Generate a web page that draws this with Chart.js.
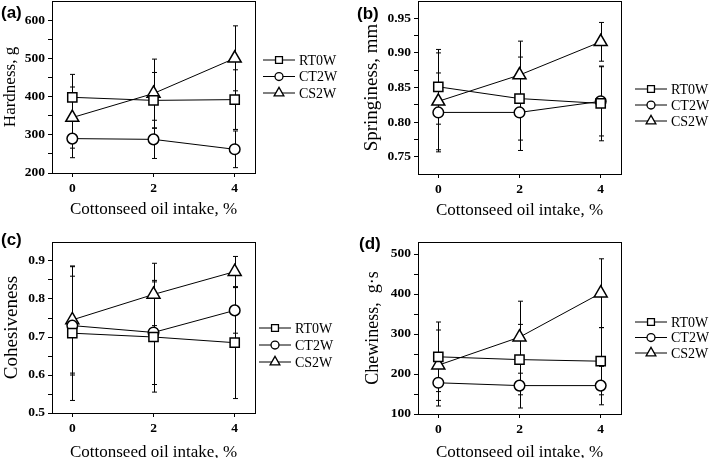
<!DOCTYPE html>
<html>
<head>
<meta charset="utf-8">
<script src="https://cdn.jsdelivr.net/npm/chart.js@4.4.0/dist/chart.umd.min.js"></script>
<style>
  body { margin: 0; background: #fff; overflow: hidden; width: 709px; height: 458px; position: relative; }
  canvas { position: absolute; }
  .lab { position: absolute; font: bold 17px 'Liberation Sans', Arial, sans-serif; color: #000; line-height: 1; }
</style>
</head>
<body>
<canvas id="cA" width="354" height="241" style="left:0;top:-12px"></canvas>
<canvas id="cB" width="355" height="241" style="left:354px;top:-12px"></canvas>
<canvas id="cC" width="354" height="240" style="left:0;top:229px"></canvas>
<canvas id="cD" width="355" height="240" style="left:354px;top:229px"></canvas>
<div class="lab" style="left:1px;top:4px">(a)</div>
<div class="lab" style="left:357px;top:5px">(b)</div>
<div class="lab" style="left:1px;top:231px">(c)</div>
<div class="lab" style="left:359px;top:235px">(d)</div>
<script>
// cottonseed oil intake, %
const doses = [0, 2, 4];
const seriesNames = ['RT0W', 'CT2W', 'CS2W'];
const xTitle = 'Cottonseed oil intake, %';
const xTicks = [0, 2, 4];

// (a) hardness, g  (mean, error)
const hardRT = [398, 390, 392];
const hardRTErr = [60, 73, 78];
const hardCT = [290, 288, 262];
const hardCTErr = [50, 50, 48];
const hardCS = [345, 408, 500];
const hardCSErr = [80, 90, 85];
const yTicksA = [200, 300, 400, 500, 600];

// (b) springiness, mm
const springRT = [0.851, 0.834, 0.827];
const springRTErr = [0.054, 0.060, 0.054];
const springCT = [0.814, 0.814, 0.830];
const springCTErr = [0.057, 0.055, 0.050];
const springCS = [0.830, 0.868, 0.916];
const springCSErr = [0.070, 0.049, 0.028];
const yTicksB = [0.75, 0.80, 0.85, 0.90, 0.95];

// (c) cohesiveness
const cohRT = [0.710, 0.700, 0.685];
const cohRTErr = [0.177, 0.145, 0.147];
const cohCT = [0.730, 0.712, 0.770];
const cohCTErr = [0.130, 0.137, 0.060];
const cohCS = [0.745, 0.812, 0.872];
const cohCSErr = [0.140, 0.082, 0.040];
const yTicksC = [0.5, 0.6, 0.7, 0.8, 0.9];

// (d) chewiness, g·s
const chewRT = [243, 236, 232];
const chewRTErr = [87, 88, 84];
const chewCT = [178, 171, 171];
const chewCTErr = [58, 56, 48];
const chewCS = [222, 292, 402];
const chewCSErr = [88, 90, 86];
const yTicksD = [100, 200, 300, 400, 500];

const markers = [
  { style: 'rect', r: 6.5 },
  { style: 'circle', r: 5.3 },
  { style: 'triangle', r: 7.5 },
];

const SERIF = "'Liberation Serif', 'Times New Roman', serif";

function drawMarker(ctx, style, x, y, r) {
  ctx.beginPath();
  if (style === 'rect') {
    const s = r * Math.SQRT1_2;
    ctx.rect(x - s, y - s, 2 * s, 2 * s);
  } else if (style === 'circle') {
    ctx.arc(x, y, r, 0, Math.PI * 2);
  } else {
    for (let k = 0; k < 3; k++) {
      const a = k * 2 * Math.PI / 3;
      const px = x + Math.sin(a) * r, py = y - Math.cos(a) * r;
      k ? ctx.lineTo(px, py) : ctx.moveTo(px, py);
    }
    ctx.closePath();
  }
  ctx.fill();
  ctx.stroke();
}

// vertical error bars with small caps
const errorBars = {
  id: 'errorBars',
  beforeDatasetsDraw(chart) {
    const { ctx, scales: { x, y } } = chart;
    ctx.save();
    ctx.strokeStyle = '#000';
    ctx.lineWidth = 1;
    chart.data.datasets.forEach(ds => {
      ds.data.forEach((p, i) => {
        const e = ds.err[i];
        const px = Math.round(x.getPixelForValue(p.x)) + 0.5;
        const top = y.getPixelForValue(p.y + e);
        const bot = y.getPixelForValue(p.y - e);
        ctx.beginPath();
        ctx.moveTo(px, top); ctx.lineTo(px, bot);
        ctx.moveTo(px - 2.5, top); ctx.lineTo(px + 2.5, top);
        ctx.moveTo(px - 2.5, bot); ctx.lineTo(px + 2.5, bot);
        ctx.stroke();
      });
    });
    ctx.restore();
  }
};

// closed frame + legend on the right
const frameLegend = {
  id: 'frameLegend',
  afterDraw(chart, args, opts) {
    const { ctx, chartArea: a } = chart;
    ctx.save();
    ctx.strokeStyle = '#000';
    ctx.lineWidth = 1;
    ctx.strokeRect(Math.round(a.left) + 0.5, Math.round(a.top) + 0.5,
                   Math.round(a.right - a.left), Math.round(a.bottom - a.top));
    ctx.font = '14px ' + SERIF;
    ctx.textBaseline = 'middle';
    chart.data.datasets.forEach((ds, i) => {
      const ly = opts.y + i * opts.dy;
      ctx.lineWidth = 1;
      ctx.strokeStyle = '#000';
      ctx.beginPath();
      ctx.moveTo(opts.x, ly); ctx.lineTo(opts.x + 32, ly);
      ctx.stroke();
      ctx.fillStyle = '#fff';
      ctx.lineWidth = 1.3;
      drawMarker(ctx, markers[i].style, opts.x + 16, ly, markers[i].r * 0.75);
      ctx.fillStyle = '#000';
      ctx.fillText(ds.label, opts.x + 36, ly + 1);
    });
    ctx.restore();
  }
};

function makeChart(id, p) {
  const datasets = p.series.map((s, i) => ({
    label: seriesNames[i],
    data: doses.map((d, j) => ({ x: d, y: s.vals[j] })),
    err: s.err,
    borderColor: '#000',
    borderWidth: 1,
    pointStyle: markers[i].style,
    pointRadius: markers[i].r,
    pointHoverRadius: markers[i].r,
    pointBorderWidth: 1.5,
    pointBorderColor: '#000',
    pointBackgroundColor: '#fff',
    tension: 0,
    clip: false,
  }));
  const majors = p.yTicks;
  const step = majors[1] - majors[0];
  return new Chart(document.getElementById(id), {
    type: 'line',
    data: { datasets },
    plugins: [errorBars, frameLegend],
    options: {
      responsive: false,
      animation: false,
      layout: { padding: { left: 0, top: p.padTop, right: p.padRight, bottom: 0 } },
      plugins: {
        legend: { display: false },
        tooltip: { enabled: false },
        frameLegend: p.legend,
      },
      scales: {
        x: {
          type: 'linear',
          min: -0.5, max: 4.5,
          afterBuildTicks: s => { s.ticks = xTicks.map(v => ({ value: v })); },
          afterFit: s => { s.height = p.xHeight; },
          ticks: { font: { family: SERIF, weight: 'bold', size: 13.5 }, color: '#000', padding: 3, autoSkip: false, maxRotation: 0 },
          grid: { drawOnChartArea: false, drawTicks: true, tickLength: 4, color: '#000' },
          border: { color: '#000', width: 1 },
          title: { display: true, text: xTitle, color: '#000',
                   font: { family: SERIF, size: 17, lineHeight: 1.2 }, padding: { top: 0, bottom: p.xTitlePad } },
        },
        y: {
          min: p.yMin, max: p.yMax,
          afterBuildTicks: s => {
            const t = [];
            majors.forEach(v => {
              t.push({ value: v, major: true });
              const m = v + step / 2;
              if (m < p.yMax) t.push({ value: m, major: false });
            });
            s.ticks = t;
          },
          afterFit: s => { s.width = p.yWidth; },
          ticks: {
            font: { family: SERIF, weight: 'bold', size: 13.5 }, color: '#000', padding: 3, autoSkip: false,
            callback: (v, i, ticks) => ticks[i].major ? v.toFixed(p.dec) : '',
          },
          grid: { drawOnChartArea: false, drawTicks: true, tickLength: 4, color: '#000' },
          border: { color: '#000', width: 1 },
          title: { display: true, text: p.yTitle, color: '#000',
                   font: { family: SERIF, size: p.yTitleSize, lineHeight: 1.2 }, padding: { top: p.yTitlePad, bottom: 0 } },
        },
      },
    },
  });
}

makeChart('cA', {
  series: [{ vals: hardRT, err: hardRTErr }, { vals: hardCT, err: hardCTErr }, { vals: hardCS, err: hardCSErr }],
  yMin: 200, yMax: 650, yTicks: yTicksA, dec: 0,
  yTitle: 'Hardness, g', yTitleSize: 17, yTitlePad: 0,
  padTop: 13, padRight: 99, yWidth: 52, xHeight: 56, xTitlePad: 9,
  legend: { x: 263, y: 72, dy: 16.5 },
});
makeChart('cB', {
  series: [{ vals: springRT, err: springRTErr }, { vals: springCT, err: springCTErr }, { vals: springCS, err: springCSErr }],
  yMin: 0.725, yMax: 0.975, yTicks: yTicksB, dec: 2,
  yTitle: 'Springiness, mm', yTitleSize: 19, yTitlePad: 7,
  padTop: 13, padRight: 88, yWidth: 64, xHeight: 55, xTitlePad: 8,
  legend: { x: 281, y: 101, dy: 16 },
});
makeChart('cC', {
  series: [{ vals: cohRT, err: cohRTErr }, { vals: cohCT, err: cohCTErr }, { vals: cohCS, err: cohCSErr }],
  yMin: 0.5, yMax: 0.95, yTicks: yTicksC, dec: 1,
  yTitle: 'Cohesiveness', yTitleSize: 19, yTitlePad: 1,
  padTop: 13, padRight: 99, yWidth: 52, xHeight: 56, xTitlePad: 6,
  legend: { x: 259, y: 99, dy: 17 },
});
makeChart('cD', {
  series: [{ vals: chewRT, err: chewRTErr }, { vals: chewCT, err: chewCTErr }, { vals: chewCS, err: chewCSErr }],
  yMin: 100, yMax: 530, yTicks: yTicksD, dec: 0,
  yTitle: 'Chewiness,  g·s', yTitleSize: 18, yTitlePad: 8,
  padTop: 13, padRight: 88, yWidth: 64, xHeight: 55, xTitlePad: 6,
  legend: { x: 281, y: 93, dy: 15.5 },
});
</script>
</body>
</html>
